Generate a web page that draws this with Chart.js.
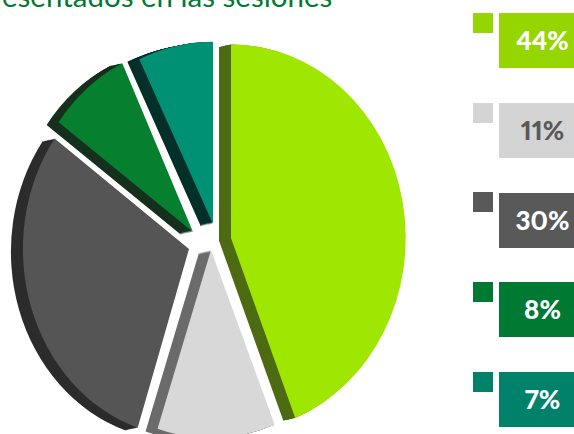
<!DOCTYPE html>
<html><head><meta charset="utf-8">
<script src="https://cdn.jsdelivr.net/npm/chart.js@4"></script>
<style>
html,body{margin:0;padding:0;background:#fff;width:574px;height:434px;overflow:hidden;position:relative}
#title{position:absolute;left:2px;top:-22px;font:400 29.5px Lato,sans-serif;color:#007a33;white-space:nowrap}
canvas{position:absolute;left:0;top:0}
.sw{position:absolute;left:473px;width:20px;height:20px}
.box{position:absolute;left:499px;width:75px;height:55px;font:900 26px Lato,sans-serif;font-variant-numeric:proportional-nums;font-feature-settings:"pnum";line-height:55px;text-align:center;padding-left:12px;box-sizing:border-box}
</style></head><body>
<div id="title">esentados en las sesiones</div>
<canvas id="c" width="440" height="434"></canvas>
<script>
const categories = ['44%','11%','30%','8%','7%'];
const values = [44,11,30,8,7];
const faceColors = ['#9fe600','#d8d8d8','#555555','#06802f','#009175'];
const depthColors = ['#4d6b12','#6b6b6b','#2c2c2c','#16301e','#05302a'];
const legendColors = ['#95d600','#d4d4d4','#595959','#007a33','#00816a'];
const legendText = ['#ffffff','#595959','#ffffff','#ffffff','#ffffff'];
const swatchTops = [13,103,192,282,372];
const boxTops = [13,103,193,282,372];
const explode = [[19,1],[-1,13],[-23,12],[-19,-5],[1,-13]];
const sliceScale = [[1.01,1],[1,0.97],[0.96,0.97],[0.96,0.963],[1,0.94]];
const depth = 12, yStretch = 1.12;

categories.forEach((t,i)=>{
  const s=document.createElement('div');s.className='sw';s.style.top=swatchTops[i]+'px';s.style.background=legendColors[i];document.body.appendChild(s);
  const b=document.createElement('div');b.className='box';b.style.top=boxTops[i]+'px';b.style.background=legendColors[i];b.style.color=legendText[i];b.textContent=t;document.body.appendChild(b);
});

const extruded = {
  id:'extruded',
  beforeDatasetDraw(chart,args){
    const ctx=chart.ctx, arcs=args.meta.data;
    arcs.forEach((arc,i)=>{
      const base=arc.options;
      const place=()=>{
        ctx.translate(explode[i][0]+arc.x,explode[i][1]+arc.y);
        ctx.scale(sliceScale[i][0],yStretch*sliceScale[i][1]);
        ctx.translate(-arc.x,-arc.y);
      };
      for(let k=depth;k>=1;k--){
        ctx.save();
        ctx.translate(-k,k*0.22);
        place();
        arc.options=Object.assign({},base,{backgroundColor:depthColors[i],borderColor:depthColors[i]});
        arc.draw(ctx);
        ctx.restore();
      }
      arc.options=base;
      ctx.save();
      place();
      arc.draw(ctx);
      ctx.restore();
    });
    return false;
  }
};

new Chart(document.getElementById('c'),{
  type:'pie',
  data:{labels:categories,datasets:[{data:values,backgroundColor:faceColors,borderWidth:0,clip:false}]},
  options:{responsive:false,animation:false,radius:173,
    layout:{padding:{left:0,right:16,top:40,bottom:0}},
    plugins:{legend:{display:false},tooltip:{enabled:false}}},
  plugins:[extruded]
});
</script></body></html>
